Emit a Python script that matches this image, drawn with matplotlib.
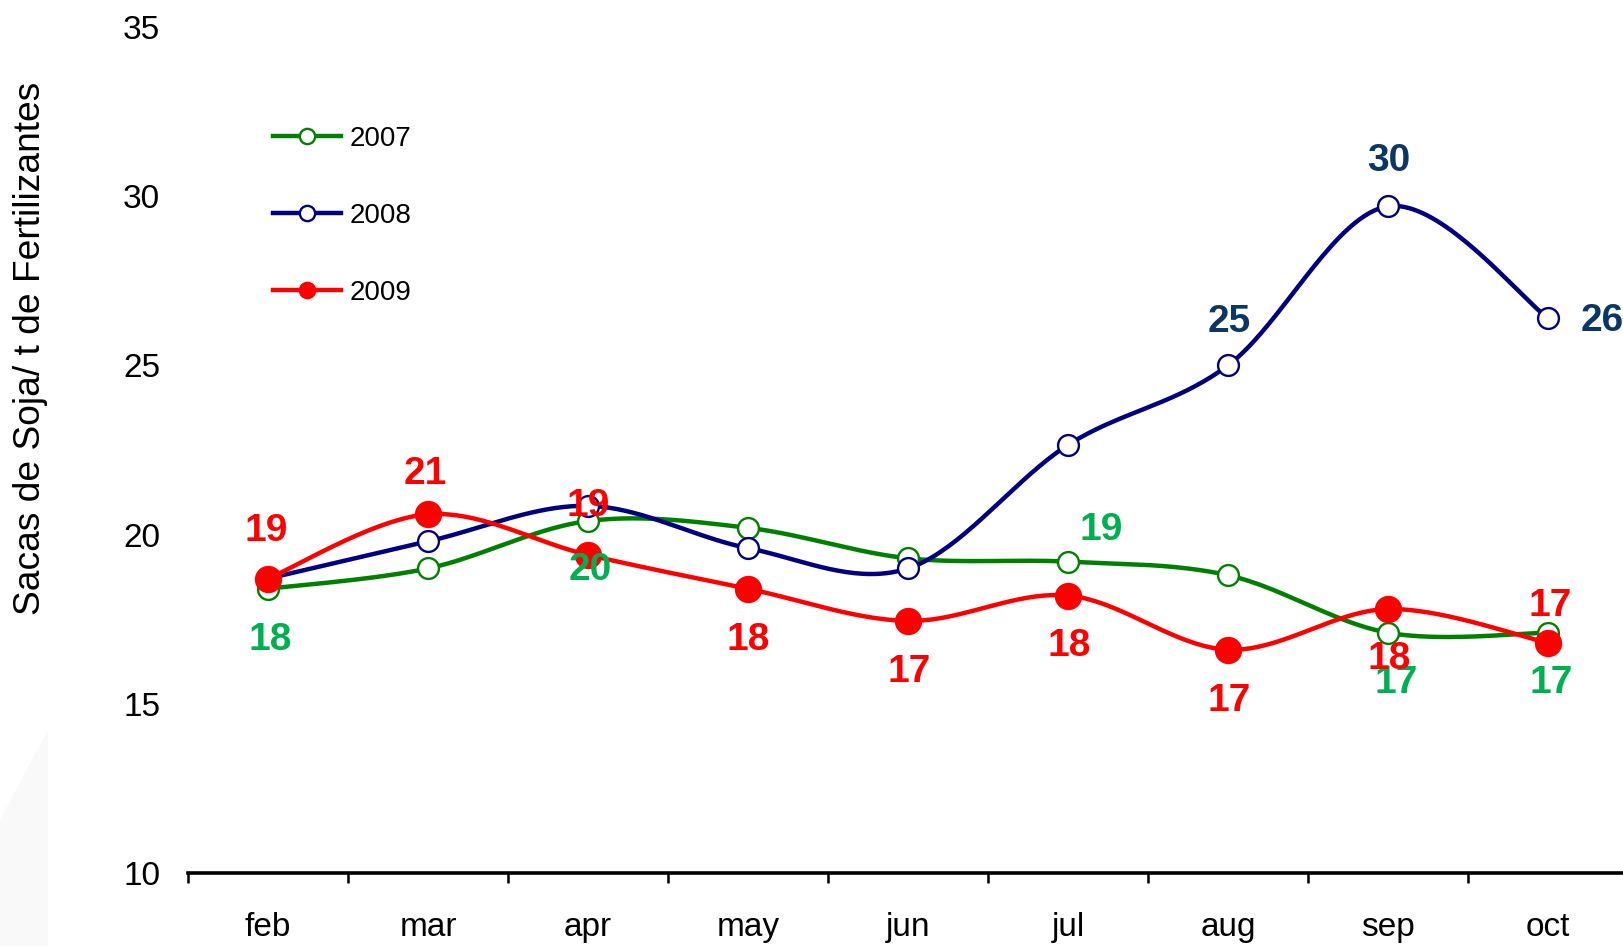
import matplotlib
matplotlib.use("Agg")
import matplotlib.pyplot as plt
import numpy as np
from matplotlib.patches import Polygon

plt.rcParams['font.family'] = ['Liberation Sans', 'DejaVu Sans']

months = ["feb", "mar", "apr", "may", "jun", "jul", "aug", "sep", "oct"]
s2007 = [18.4, 19.0, 20.4, 20.2, 19.3, 19.2, 18.8, 17.1, 17.1]
s2008 = [18.7, 19.8, 20.85, 19.6, 19.0, 22.65, 25.0, 29.7, 26.4]
s2009 = [18.7, 20.6, 19.4, 18.4, 17.45, 18.2, 16.6, 17.8, 16.8]
yticks = [10, 15, 20, 25, 30, 35]

# which points carry a value label, with offsets in pixels (dx, dy up)
lab2007 = {0: (2, -51), 2: (2, -49), 5: (33, 32), 7: (8, -50), 8: (3, -50)}
lab2008 = {6: (1, 43), 7: (1, 45), 8: (54, -3)}
lab2009 = {0: (-2, 48), 1: (-3, 40), 2: (0, 49), 3: (0, -51), 4: (1, -51),
           5: (1, -50), 6: (1, -51), 7: (1, -50), 8: (2, 37)}


def smooth(x, y, n=40):
    x = np.asarray(x, float)
    y = np.asarray(y, float)
    xs, ys = [], []
    m = len(x)
    for i in range(m - 1):
        p0 = np.array([x[max(i - 1, 0)], y[max(i - 1, 0)]])
        p1 = np.array([x[i], y[i]])
        p2 = np.array([x[i + 1], y[i + 1]])
        p3 = np.array([x[min(i + 2, m - 1)], y[min(i + 2, m - 1)]])
        c1 = p1 + (p2 - p0) / 6.0
        c2 = p2 - (p3 - p1) / 6.0
        t = np.linspace(0, 1, n)[:, None]
        pts = ((1 - t) ** 3) * p1 + 3 * ((1 - t) ** 2) * t * c1 + 3 * (1 - t) * t ** 2 * c2 + t ** 3 * p2
        xs.extend(pts[:, 0])
        ys.extend(pts[:, 1])
    return np.array(xs), np.array(ys)


W, H = 1624, 946
fig = plt.figure(figsize=(W / 100, H / 100), dpi=100)
fig.patch.set_facecolor("white")

# faint background shape bottom-left
fig.patches.append(Polygon([[0, 0], [48 / W, 0], [48 / W, 1 - 730 / H], [0, 1 - 820 / H]],
                           closed=True, transform=fig.transFigure,
                           facecolor="#f9f9f9", edgecolor="none", zorder=0))

ax = fig.add_axes([188 / W, (H - 873) / H, 1440 / W, 846 / H])
ax.set_facecolor("none")
x = np.arange(len(months))

series = [
    ("2007", s2007, "#008000", "white", 15, lab2007, "#00B050"),
    ("2008", s2008, "#000080", "white", 15, lab2008, "#0B3766"),
    ("2009", s2009, "#FF0000", "#FF0000", 18, lab2009, "#FF0000"),
]

handles = []
for z, (name, vals, col, fc, ms, labs, tcol) in enumerate(series):
    sx, sy = smooth(x, vals)
    ax.plot(sx, sy, color=col, lw=3.2, zorder=2 + z * 2, solid_capstyle="round")
    ax.plot(x, vals, linestyle="none", marker="o", markersize=ms,
            markerfacecolor=fc, markeredgecolor=col, markeredgewidth=1.7,
            zorder=3 + z * 2)
    h, = ax.plot([], [], color=col, lw=3.2, marker="o", markersize=11,
                 markerfacecolor=fc, markeredgecolor=col, markeredgewidth=1.7)
    handles.append((h, name))
    for i, (dx, dy) in labs.items():
        ax.annotate(f"{vals[i]:.0f}", (x[i], vals[i]), xytext=(dx, dy),
                    textcoords="offset pixels", ha="center", va="center",
                    fontsize=28, fontweight="bold", color=tcol, zorder=10)

ax.set_xlim(-0.5, len(months) - 0.5)
ax.set_ylim(10, 35)
ax.set_yticks(yticks)
ax.set_yticklabels([str(v) for v in yticks])
ax.set_xticks(x)
ax.set_xticklabels(months)
ax.set_xticks(np.arange(-0.5, len(months), 1.0), minor=True)

for s in ["top", "right", "left"]:
    ax.spines[s].set_visible(False)
ax.spines["bottom"].set_linewidth(2.6)
ax.spines["bottom"].set_color("black")

ax.tick_params(axis="y", length=0, pad=20, labelsize=24)
ax.tick_params(axis="x", which="major", length=0, pad=28, labelsize=24)
ax.tick_params(axis="x", which="minor", length=7, width=1.8, direction="out")

fig.text(31 / W, 1 - 348 / H, "Sacas de Soja/ t de Fertilizantes", rotation=90,
         ha="center", va="center", fontsize=26.7, color="black")

leg = ax.legend([h for h, _ in handles], [n for _, n in handles],
                loc="center left", bbox_to_anchor=(273 / W, 1 - 216 / H),
                bbox_transform=fig.transFigure, frameon=False, fontsize=20,
                handlelength=2.45, handletextpad=0.3, labelspacing=1.83,
                borderpad=0, borderaxespad=0)

fig.savefig("out.png", dpi=100)
